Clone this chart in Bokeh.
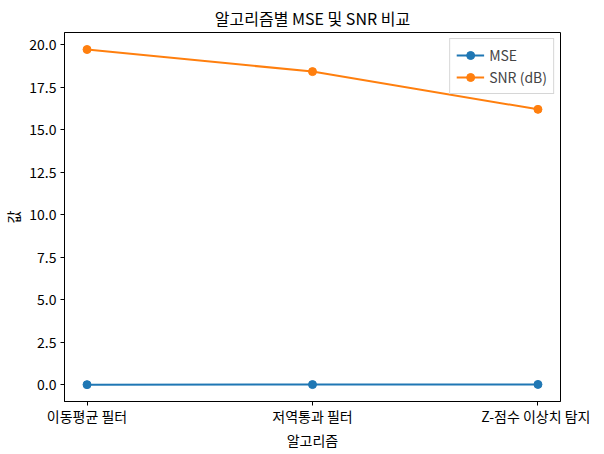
from bokeh.plotting import figure
from bokeh.models import Range1d, FixedTicker, NumeralTickFormatter, Legend, LegendItem
from bokeh.embed import file_html
from bokeh.resources import INLINE

# data
algorithms = ["이동평균 필터", "저역통과 필터", "Z-점수 이상치 탐지"]
mse = [0.012, 0.016, 0.024]
snr = [19.72, 18.42, 16.2]
y_ticks = [0, 2.5, 5, 7.5, 10, 12.5, 15, 17.5, 20]

FONT = "Noto Sans CJK KR"
x = list(range(len(algorithms)))

p = figure(frame_width=496, frame_height=369,
           min_border_left=55, min_border_right=30,
           min_border_top=20, min_border_bottom=36,
           x_range=Range1d(-0.1, 2.1), y_range=Range1d(-0.98, 20.72),
           title="알고리즘별 MSE 및 SNR 비교",
           output_backend="svg", toolbar_location=None)

p.title.align = "center"
p.title.text_font = FONT
p.title.text_font_size = "16px"
p.title.text_font_style = "normal"
p.title.text_color = "black"
p.title.standoff = 6
p.title.offset = 0

p.grid.visible = False
p.outline_line_color = "black"
p.outline_line_width = 1
p.outline_line_alpha = 1

for ax in (p.xaxis[0], p.yaxis[0]):
    ax.axis_line_color = "black"
    ax.major_tick_line_color = "black"
    ax.major_tick_out = 4
    ax.major_tick_in = 0
    ax.minor_tick_line_color = None
    ax.major_label_text_font = FONT
    ax.major_label_text_font_size = "14px"
    ax.major_label_text_color = "black"
    ax.axis_label_text_font = FONT
    ax.axis_label_text_font_size = "14px"
    ax.axis_label_text_font_style = "normal"
    ax.axis_label_text_color = "black"

p.xaxis.ticker = FixedTicker(ticks=x)
p.xaxis.major_label_overrides = {i: name for i, name in enumerate(algorithms)}
p.xaxis.axis_label = "알고리즘"
p.xaxis.major_label_standoff = 0
p.xaxis.axis_label_standoff = 1

p.yaxis.ticker = FixedTicker(ticks=y_ticks)
p.yaxis.formatter = NumeralTickFormatter(format="0.0")
p.yaxis.axis_label = "값"
p.yaxis.major_label_standoff = 4
p.yaxis.axis_label_standoff = 3

blue = "#1f77b4"
orange = "#ff7f0e"

l1 = p.line(x, mse, line_color=blue, line_width=2)
m1 = p.scatter(x, mse, size=8, fill_color=blue, line_color=blue)
l2 = p.line(x, snr, line_color=orange, line_width=2)
m2 = p.scatter(x, snr, size=8, fill_color=orange, line_color=orange)

legend = Legend(items=[LegendItem(label="MSE", renderers=[l1, m1]),
                       LegendItem(label="SNR (dB)", renderers=[l2, m2])],
                location="top_right")
legend.label_text_font = FONT
legend.label_text_font_size = "14px"
legend.border_line_color = "#cccccc"
legend.border_line_alpha = 0.8
legend.margin = 6
legend.padding = 6
legend.spacing = 2
legend.glyph_width = 28
legend.label_height = 20
legend.glyph_height = 20
p.add_layout(legend)

open("out.html", "w").write(file_html(p, INLINE))
